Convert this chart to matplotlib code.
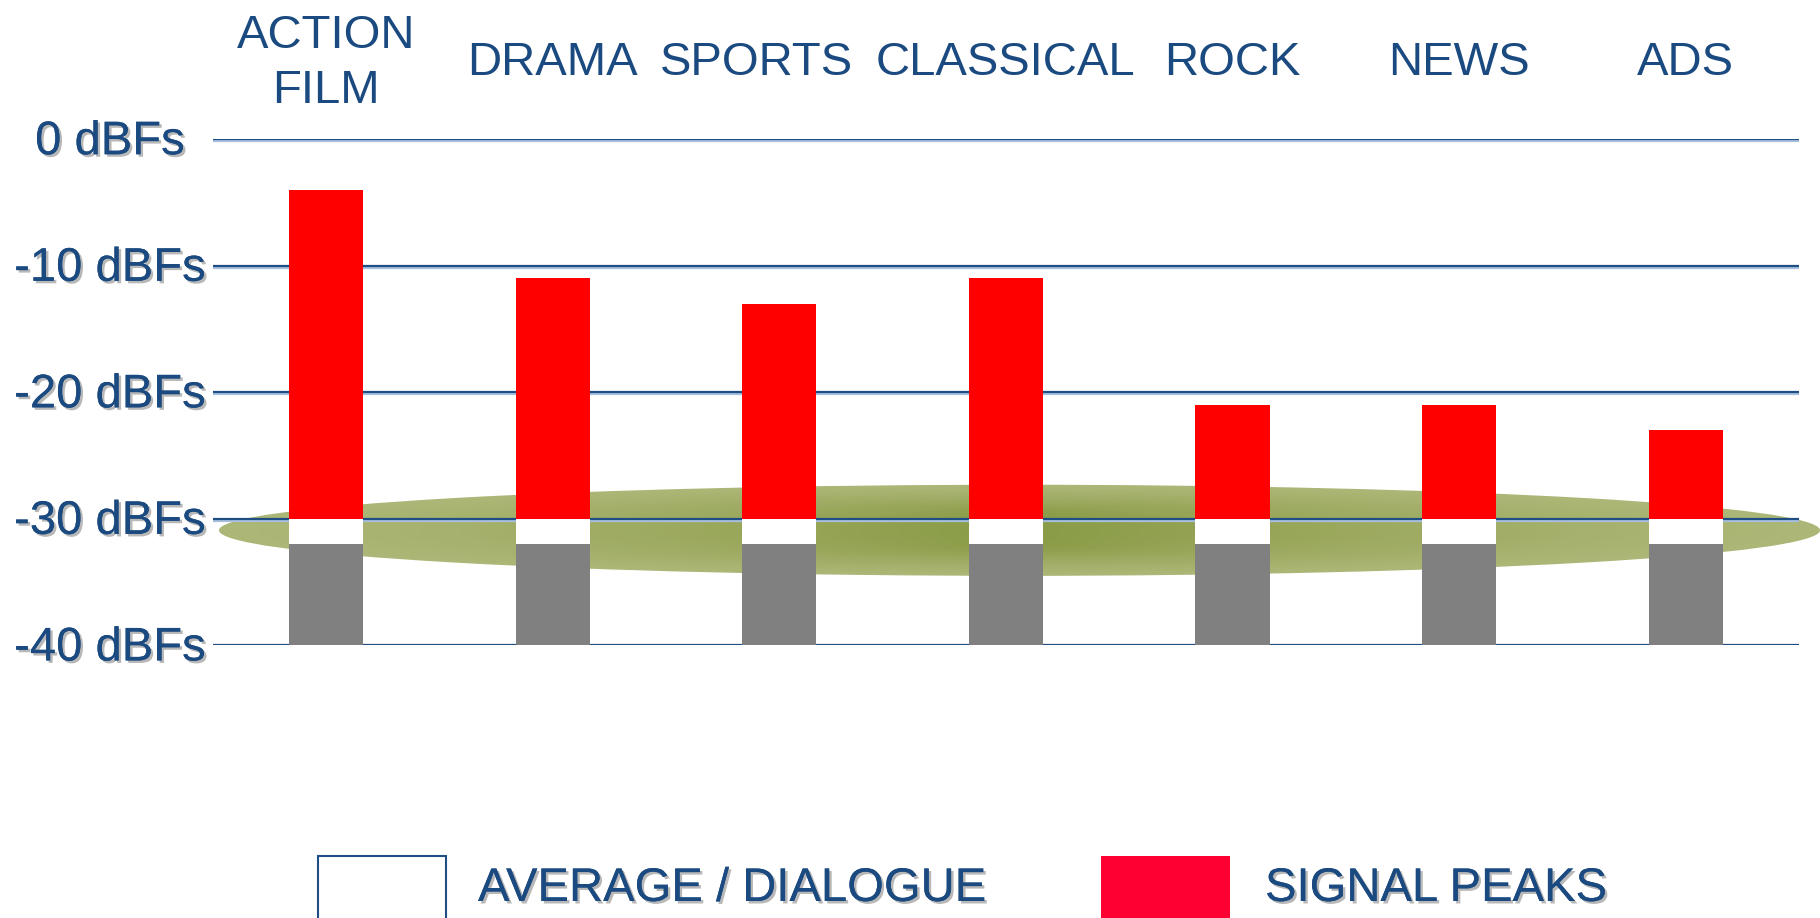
import matplotlib
matplotlib.use("Agg")
import matplotlib.pyplot as plt
import matplotlib.patheffects as pe
from matplotlib.patches import Ellipse, Rectangle
import numpy as np

# ---- data ----
categories = ["ACTION\nFILM", "DRAMA", "SPORTS", "CLASSICAL", "ROCK", "NEWS", "ADS"]
peak_db = [-4, -11, -13, -11, -21, -21, -23]
dialogue_top_db = [-30, -30, -30, -30, -30, -30, -30]
dialogue_bottom_db = [-32, -32, -32, -32, -32, -32, -32]
floor_db = -40
tick_values = [0, -10, -20, -30, -40]
tick_labels = ["0 dBFs", "-10 dBFs", "-20 dBFs", "-30 dBFs", "-40 dBFs"]
legend_labels = ["AVERAGE / DIALOGUE", "SIGNAL PEAKS"]

# ---- style ----
TXT = "#1A4A80"
plt.rcParams["font.family"] = ["Liberation Sans", "DejaVu Sans"]
shadow = [pe.withSimplePatchShadow(offset=(1.8, -1.8), shadow_rgbFace="#9a9a9a", alpha=0.7), pe.Normal()]

fig = plt.figure(figsize=(18.2, 9.18), dpi=100)
ax = fig.add_axes([0.1169, 0.2969, 0.9885 - 0.1169, 0.8483 - 0.2969])
ax.set_xlim(-0.5, 6.5)
ax.set_ylim(-40, 0)
ax.axis("off")

x = np.arange(len(categories))
w = 0.327

# ellipse with radial gradient
cx, cy, ew, eh = 3.06, -30.9, 7.065, 7.2
edge = np.array([172, 182, 118]) / 255
center = np.array([138, 155, 70]) / 255
n = 40
for i in range(n):
    s = 1 - i / n
    t = (i / (n - 1)) ** 1.3
    col = edge * (1 - t) + center * t
    ax.add_patch(Ellipse((cx, cy), ew * s, eh * (0.35 + 0.65 * s), facecolor=col,
                         edgecolor="none", zorder=0.5, clip_on=False))

# gridlines
for v in tick_values:
    ax.axhline(v, color="#1F4E85", lw=1.6, zorder=1,
               path_effects=[pe.SimpleLineShadow(offset=(0, -1.5), shadow_color="#a8c0dd", alpha=1.0), pe.Normal()])

# bars
bottoms = np.array(dialogue_bottom_db)
ax.bar(x, bottoms - floor_db, w, bottom=floor_db, color="#808080", zorder=2)
ax.bar(x, np.array(dialogue_top_db) - bottoms, w, bottom=bottoms, color="white", zorder=2)
ax.bar(x, np.array(peak_db) - np.array(dialogue_top_db), w, bottom=dialogue_top_db,
       color="#FF0000", zorder=2)

# y tick labels (centered in the left margin)
for v, lab in zip(tick_values, tick_labels):
    yf = ax.transData.transform((0, v))[1]
    fig.text(110 / 1820, (yf - 3) / 918, lab, ha="center", va="center", fontsize=34,
             color=TXT, path_effects=shadow, transform=fig.transFigure)

# category labels on top
label_dx = {"SPORTS": -0.1}
for xi, cat in zip(x, categories):
    ax.text(xi + label_dx.get(cat, 0), 6.0, cat, ha="center", va="center", fontsize=34,
            color=TXT, linespacing=1.34, clip_on=False)

# legend
fig.patches.append(Rectangle((318 / 1820, -0.05), 128 / 1820, 0.05 + 1 - 856 / 918,
                             transform=fig.transFigure, facecolor="white", edgecolor="#1F4E85", lw=1.5))
fig.patches.append(Rectangle((1101 / 1820, -0.05), 129 / 1820, 0.05 + 1 - 856 / 918,
                             transform=fig.transFigure, facecolor="#FF0033", edgecolor="none"))
fig.text(478 / 1820, 1 - 889 / 918, legend_labels[0], ha="left", va="center", fontsize=34,
         color=TXT, path_effects=shadow)
fig.text(1265 / 1820, 1 - 889 / 918, legend_labels[1], ha="left", va="center", fontsize=34,
         color=TXT, path_effects=shadow)

fig.savefig("out.png", dpi=100, facecolor="white")
